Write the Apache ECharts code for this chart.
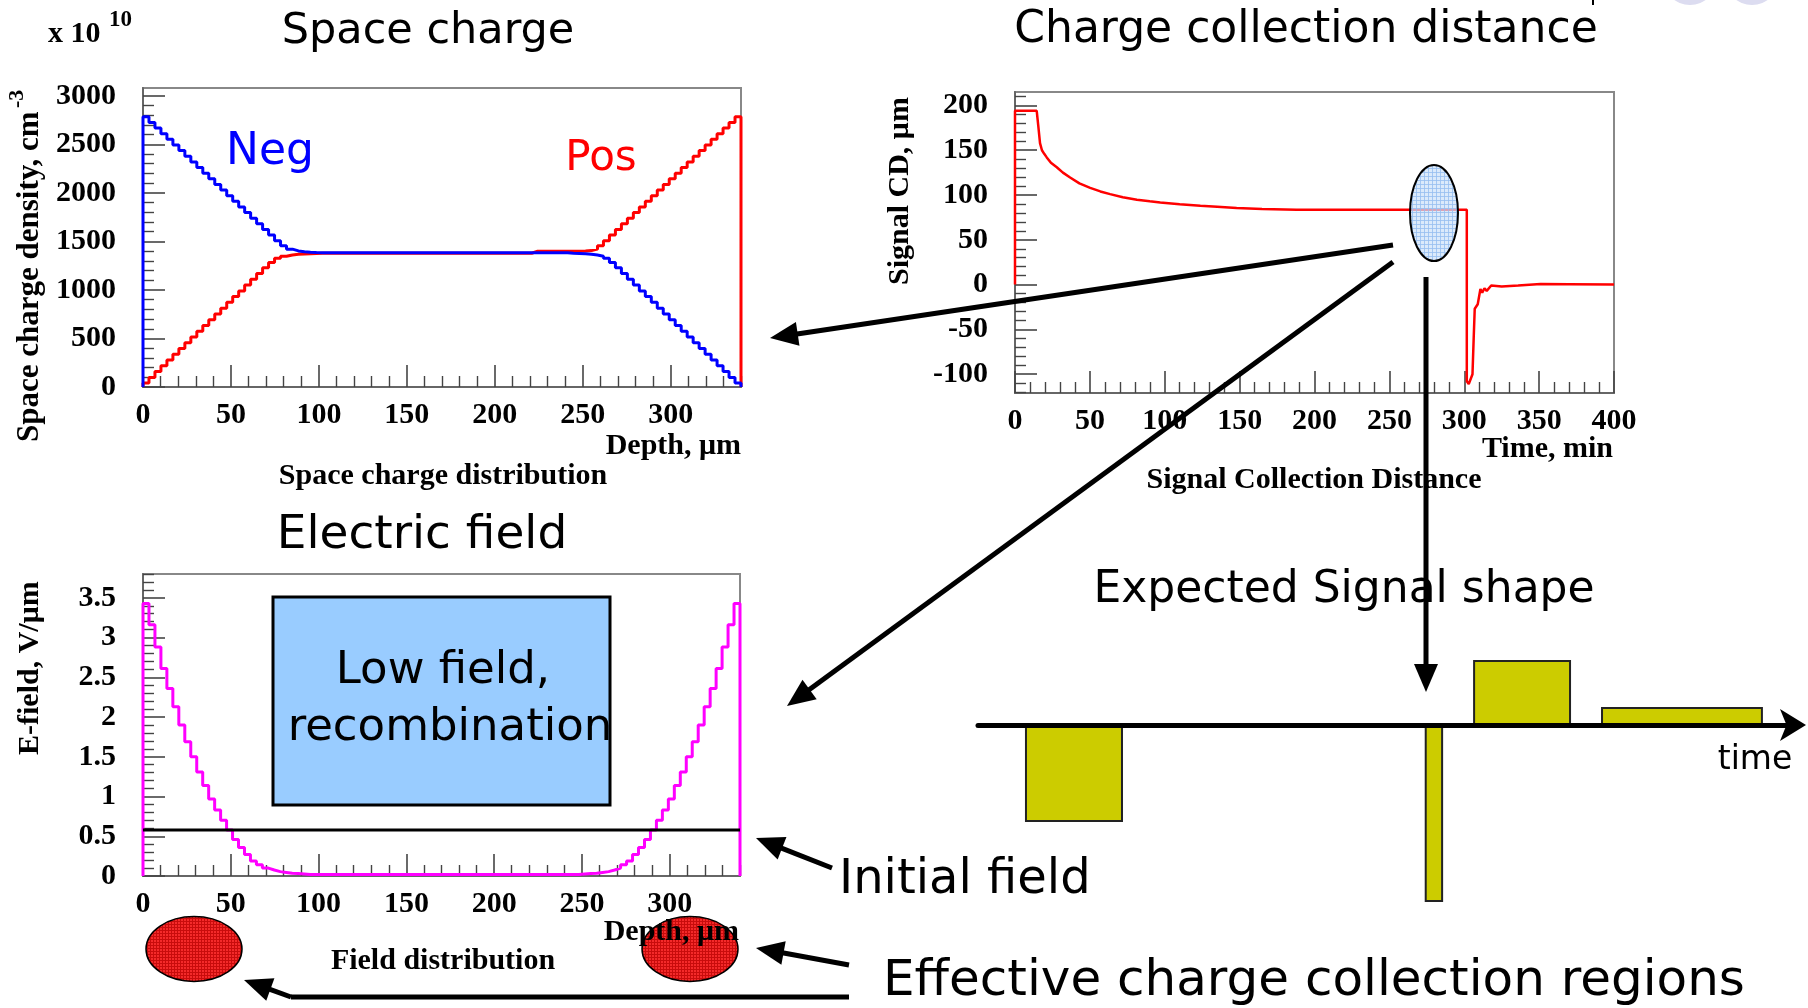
<!DOCTYPE html>
<html><head><meta charset="utf-8">
<script src="https://cdn.jsdelivr.net/npm/echarts@6/dist/echarts.min.js"></script>
<style>html,body{margin:0;padding:0;background:#fff;}#c{width:1808px;height:1008px;}</style>
</head><body><div id="c"></div>
<script>
// ================= DATA =================
// Space charge histograms: 100 bins over 0-340 µm (x 1e10 cm^-3)
const depthBinWidth = 3.4;
const negDensity = [
  2783, 2725, 2667, 2609, 2551, 2493, 2435, 2377, 2319, 2261,
  2203, 2145, 2087, 2029, 1971, 1913, 1855, 1797, 1739, 1681,
  1623, 1565, 1507, 1455, 1420, 1402, 1393, 1388, 1385, 1384,
  1383, 1383, 1382, 1382, 1382, 1382, 1382, 1382, 1382, 1382,
  1382, 1382, 1382, 1382, 1382, 1382, 1382, 1382, 1382, 1382,
  1382, 1382, 1382, 1382, 1382, 1382, 1382, 1382, 1382, 1382,
  1382, 1382, 1382, 1382, 1382, 1382, 1382, 1382, 1382, 1382,
  1382, 1378, 1376, 1373, 1368, 1360, 1347, 1325, 1283, 1228,
  1169, 1109, 1050, 990, 931, 872, 812, 753, 693, 634,
  575, 515, 456, 396, 337, 278, 218, 159, 99, 40
];
const posDensity = [
  40, 99, 159, 218, 278, 337, 396, 456, 515, 575,
  634, 693, 753, 812, 872, 931, 990, 1050, 1109, 1169,
  1228, 1283, 1325, 1347, 1360, 1367, 1371, 1373, 1375, 1378,
  1378, 1378, 1378, 1378, 1378, 1378, 1378, 1378, 1378, 1378,
  1378, 1378, 1378, 1378, 1378, 1378, 1378, 1378, 1378, 1378,
  1378, 1378, 1378, 1378, 1378, 1378, 1378, 1378, 1378, 1378,
  1378, 1378, 1378, 1378, 1378, 1398, 1398, 1398, 1398, 1398,
  1398, 1398, 1399, 1400, 1405, 1420, 1455, 1507, 1565, 1623,
  1681, 1739, 1797, 1855, 1913, 1971, 2029, 2087, 2145, 2203,
  2261, 2319, 2377, 2435, 2493, 2551, 2609, 2667, 2725, 2783
];
// Electric field histogram (V/µm), same binning
const eField = [
  3.43, 3.16, 2.88, 2.61, 2.36, 2.13, 1.90, 1.69, 1.50, 1.31,
  1.14, 0.97, 0.83, 0.70, 0.58, 0.46, 0.36, 0.27, 0.19, 0.14,
  0.10, 0.075, 0.055, 0.045, 0.035, 0.03, 0.025, 0.02, 0.02, 0.02,
  0.02, 0.02, 0.02, 0.02, 0.02, 0.02, 0.02, 0.02, 0.02, 0.02,
  0.02, 0.02, 0.02, 0.02, 0.02, 0.02, 0.02, 0.02, 0.02, 0.02,
  0.02, 0.02, 0.02, 0.02, 0.02, 0.02, 0.02, 0.02, 0.02, 0.02,
  0.02, 0.02, 0.02, 0.02, 0.02, 0.02, 0.02, 0.02, 0.02, 0.02,
  0.02, 0.02, 0.02, 0.025, 0.03, 0.035, 0.045, 0.055, 0.075, 0.10,
  0.14, 0.19, 0.27, 0.36, 0.46, 0.58, 0.70, 0.83, 0.97, 1.14,
  1.31, 1.50, 1.69, 1.90, 2.13, 2.36, 2.61, 2.88, 3.16, 3.43
];
const initialField = 0.58;
const fieldLineDepth = [0, 340];
// Charge collection distance vs time
const ccdTime = [0, 0, 14.5, 15.5, 16.7, 18, 19.5, 21.2, 24, 27.9,
  32, 36.8, 43, 50.2, 57, 63.5, 72, 81.4, 90, 97,
  110, 123.8, 135, 148, 165, 188, 210, 240, 270, 301.7,
  301.7, 303, 305.5, 306.3, 307, 309, 310.8, 312, 313.5, 315,
  318, 325, 336, 351, 370, 400];
const ccdValue = [0, 194, 194, 178, 158, 150, 146, 142, 136, 131,
  125, 119.5, 113, 108, 104, 101, 97.5, 94.7, 93, 91.7,
  89.8, 88, 86.8, 85.4, 84.5, 83.5, 83.5, 83.5, 83.5, 83.5,
  -108, -111, -100, -60, -27, -22, -5, -9, -4, -7,
  -1, -2, -1, 0.7, 0.5, 0];
// Expected signal shape (arbitrary units)
const signalStart = [5.85, 54.6, 60.5, 76.1];
const signalEnd   = [17.56, 56.6, 72.2, 95.6];
const signalAmp   = [-0.96, -1.76, 0.64, 0.17];
// Tick labels
const depthTicks = [0, 50, 100, 150, 200, 250, 300];
const densityTicks = [0, 500, 1000, 1500, 2000, 2500, 3000];
const timeTicks = [0, 50, 100, 150, 200, 250, 300, 350, 400];
const ccdTicks = [-100, -50, 0, 50, 100, 150, 200];
const fieldTicks = [0, 0.5, 1, 1.5, 2, 2.5, 3, 3.5];

// ================= HELPERS =================
function minorTicks(min, max, step, majors) {
  const out = [];
  const n = Math.round((max - min) / step);
  for (let i = 0; i <= n; i++) {
    const r = Math.round((min + i * step) * 1000) / 1000;
    if (!majors.some(m => Math.abs(m - r) < 1e-9)) out.push(r);
  }
  return out;
}
function histData(vals) {
  const d = [[0, 0]];
  vals.forEach((v, i) => d.push([Math.round(i * depthBinWidth * 100) / 100, v]));
  const end = Math.round(vals.length * depthBinWidth * 100) / 100;
  d.push([end, vals[vals.length - 1]]);
  d.push([end, 0]);
  return d;
}
function hatch(base, line, step) {
  const c = document.createElement('canvas');
  c.width = step; c.height = step;
  const g = c.getContext('2d');
  g.fillStyle = base; g.fillRect(0, 0, step, step);
  g.fillStyle = line; g.fillRect(0, 0, step, 1); g.fillRect(0, 0, 1, step);
  return {type: 'pattern', image: c, repeat: 'repeat'};
}
const LBL = {fontFamily: 'Liberation Serif', fontWeight: 'bold', fontSize: 30, color: '#000'};
function axisPair(dim, gridIndex, min, max, majors, minors) {
  const pos = dim === 'x' ? 'bottom' : 'left';
  const major = {
    type: 'value', gridIndex, min, max, position: pos,
    axisLine: {show: true, onZero: false, lineStyle: {color: '#666', width: 2}},
    axisTick: {show: true, inside: true, length: 22, customValues: majors, lineStyle: {color: '#444', width: 1.6}},
    axisLabel: Object.assign({show: true, customValues: majors, margin: dim === 'x' ? 13 : 27,
      formatter: v => String(v)}, LBL),
    splitLine: {show: false}
  };
  const minor = {
    type: 'value', gridIndex, min, max, position: pos,
    axisLine: {show: false, onZero: false},
    axisTick: {show: true, inside: true, length: 11, customValues: minors, lineStyle: {color: '#444', width: 1.4}},
    axisLabel: {show: false},
    splitLine: {show: false}
  };
  return [major, minor];
}

// ================= AXES =================
const scX = axisPair('x', 0, 0, 340, depthTicks, minorTicks(0, 340, 10, depthTicks));
const scY = axisPair('y', 0, 0, 3080, densityTicks, minorTicks(0, 3000, 100, densityTicks));
const cdX = axisPair('x', 1, 0, 400, timeTicks, minorTicks(0, 400, 10, timeTicks));
const cdY = axisPair('y', 1, -121, 215, ccdTicks, minorTicks(-120, 210, 10, ccdTicks));
const efX = axisPair('x', 2, 0, 340, depthTicks, minorTicks(0, 340, 10, depthTicks));
const efY = axisPair('y', 2, 0, 3.8, fieldTicks, minorTicks(0, 3.8, 0.1, fieldTicks));
const sigX = {type: 'value', gridIndex: 3, min: 0, max: 100, z: 10,
  axisLine: {show: true, onZero: true, symbol: ['none', 'arrow'], symbolSize: [24, 26], symbolOffset: [0, 8],
    lineStyle: {color: '#000', width: 5}},
  axisTick: {show: false}, axisLabel: {show: false}, splitLine: {show: false}};
const sigY = {type: 'value', gridIndex: 3, min: -2, max: 1, show: false, splitLine: {show: false}};

const signalData = signalStart.map((s, i) => [s, signalEnd[i], signalAmp[i]]);

// ================= GRAPHICS (annotations) =================
const COMIC = 'DejaVu Sans';
function txt(text, x, y, size, opts) {
  opts = opts || {};
  return {type: 'text', x, y, z: 120, rotation: opts.rotation || 0,
    style: {text, fill: opts.color || '#000', fontSize: size, fontFamily: opts.family || COMIC,
      fontWeight: opts.weight || 'normal',
      textAlign: opts.align || 'center', align: opts.align || 'center',
      textVerticalAlign: opts.valign || 'middle', verticalAlign: opts.valign || 'middle'}};
}
function serif(text, x, y, opts) {
  opts = opts || {};
  return txt(text, x, y, opts.size || 30, Object.assign({family: 'Liberation Serif', weight: 'bold'}, opts));
}
function arrow(x1, y1, x2, y2) {
  const a = Math.atan2(y2 - y1, x2 - x1), L = 28, H = 12;
  const bx = x2 - L * Math.cos(a), by = y2 - L * Math.sin(a);
  const px = -Math.sin(a) * H, py = Math.cos(a) * H;
  return [
    {type: 'line', z: 110, shape: {x1, y1, x2: bx + 4 * Math.cos(a), y2: by + 4 * Math.sin(a)},
      style: {stroke: '#000', lineWidth: 5}},
    {type: 'polygon', z: 110, shape: {points: [[x2, y2], [bx + px, by + py], [bx - px, by - py]]},
      style: {fill: '#000'}}
  ];
}

const redHatch = hatch('#f42a2a', '#c80c0c', 3);
const blueHatch = hatch('rgba(205,226,250,0.72)', 'rgba(150,190,240,0.8)', 4);

const graphics = [
  // top-right slide decorations
  {type: 'circle', z: 1, shape: {cx: 1690, cy: -22, r: 27}, style: {fill: '#dcdcf0'}},
  {type: 'circle', z: 1, shape: {cx: 1752, cy: -22, r: 27}, style: {fill: '#dcdcf0'}},
  {type: 'line', z: 1, shape: {x1: 1593, y1: 0, x2: 1593, y2: 5}, style: {stroke: '#000', lineWidth: 2}},
  // titles
  txt('Space charge', 428, 32, 43),
  txt('Charge collection distance', 1306, 31, 44),
  txt('Electric field', 422, 536, 47),
  txt('Expected Signal shape', 1344, 591, 44),
  txt('Initial field', 839, 881, 48, {align: 'left'}),
  txt('Effective charge collection regions', 883, 982, 50, {align: 'left'}),
  txt('time', 1755, 760, 33),
  txt('Neg', 270, 153, 44, {color: '#0000ff'}),
  txt('Pos', 601, 159, 42, {color: '#ff0000'}),
  // low field box
  {type: 'rect', z: 100, shape: {x: 273, y: 597, width: 337, height: 208},
    style: {fill: '#99ccff', stroke: '#000', lineWidth: 3}},
  txt('Low field,', 443, 671, 45),
  txt('recombination', 450, 728, 45),
  // ROOT style axis titles
  serif('x 10', 48, 34, {align: 'left', size: 30}),
  serif('10', 109, 20, {align: 'left', size: 23}),
  serif('Depth, \u03bcm', 741, 446, {align: 'right'}),
  serif('Space charge distribution', 443, 476),
  serif('Time, min', 1613, 449, {align: 'right'}),
  serif('Signal Collection Distance', 1314, 480),
  serif('Depth, \u03bcm', 739, 932, {align: 'right'}),
  serif('Field distribution', 443, 961),
  serif('Space charge density, cm', 30, 442, {align: 'left', rotation: Math.PI / 2, size: 31}),
  serif('-3', 17, 108, {align: 'left', rotation: Math.PI / 2, size: 22}),
  serif('Signal CD, \u03bcm', 900, 285, {align: 'left', rotation: Math.PI / 2}),
  serif('E-field, V/\u03bcm', 30, 755, {align: 'left', rotation: Math.PI / 2}),
  // ellipses
  {type: 'ellipse', z: 105, shape: {cx: 1434, cy: 213, rx: 24, ry: 48},
    style: {fill: blueHatch, stroke: '#000', lineWidth: 2}},
  {type: 'ellipse', z: 105, shape: {cx: 194, cy: 949, rx: 48, ry: 32.5},
    style: {fill: redHatch, stroke: '#000', lineWidth: 1.5}},
  {type: 'ellipse', z: 105, shape: {cx: 690, cy: 949, rx: 48, ry: 32.5},
    style: {fill: redHatch, stroke: '#000', lineWidth: 1.5}},
  // lines
  {type: 'polyline', z: 110, shape: {points: [[849, 997], [291, 997]]}, style: {stroke: '#000', lineWidth: 5}}
].concat(
  arrow(1393, 245, 770, 338),
  arrow(1393, 262, 787, 706),
  arrow(1426, 277, 1426, 692),
  arrow(832, 868, 756, 838),
  arrow(849, 965, 756, 948),
  arrow(291, 997, 244, 980)
);

// ================= CHART =================
const chart = echarts.init(document.getElementById('c'), null, {renderer: 'canvas'});
chart.setOption({
  animation: false,
  backgroundColor: '#fff',
  grid: [
    {left: 143, top: 88, width: 598, height: 299, show: true, borderColor: '#888', borderWidth: 2},
    {left: 1015, top: 92, width: 599, height: 301, show: true, borderColor: '#888', borderWidth: 2},
    {left: 143, top: 574, width: 597, height: 302, show: true, borderColor: '#888', borderWidth: 2},
    {left: 978, top: 625, width: 820, height: 300, show: false}
  ],
  xAxis: [scX[0], scX[1], cdX[0], cdX[1], efX[0], efX[1], sigX],
  yAxis: [scY[0], scY[1], cdY[0], cdY[1], efY[0], efY[1], sigY],
  series: [
    {type: 'line', name: 'Pos', xAxisIndex: 0, yAxisIndex: 0, step: 'end', symbol: 'none',
      data: histData(posDensity), lineStyle: {color: '#ff0000', width: 3}},
    {type: 'line', name: 'Neg', xAxisIndex: 0, yAxisIndex: 0, step: 'end', symbol: 'none',
      data: histData(negDensity), lineStyle: {color: '#0000ff', width: 3}},
    {type: 'line', name: 'Signal CD', xAxisIndex: 2, yAxisIndex: 2, symbol: 'none',
      data: ccdTime.map((t, i) => [t, ccdValue[i]]), lineStyle: {color: '#ff0000', width: 2.5}},
    {type: 'line', name: 'E-field', xAxisIndex: 4, yAxisIndex: 4, step: 'end', symbol: 'none',
      data: histData(eField), lineStyle: {color: '#ff00ff', width: 3}},
    {type: 'line', name: 'Initial field', xAxisIndex: 4, yAxisIndex: 4, symbol: 'none',
      data: fieldLineDepth.map(d => [d, initialField]), lineStyle: {color: '#000', width: 3}},
    {type: 'custom', name: 'Signal shape', xAxisIndex: 6, yAxisIndex: 6, z: 3,
      data: signalData,
      renderItem: function (params, api) {
        const p0 = api.coord([api.value(0), 0]);
        const p1 = api.coord([api.value(1), api.value(2)]);
        return {type: 'rect',
          shape: {x: Math.min(p0[0], p1[0]), y: Math.min(p0[1], p1[1]),
            width: Math.abs(p1[0] - p0[0]), height: Math.abs(p1[1] - p0[1])},
          style: {fill: '#cccc00', stroke: '#222', lineWidth: 2}};
      }}
  ],
  graphic: {elements: graphics}
});
</script>
</body></html>
